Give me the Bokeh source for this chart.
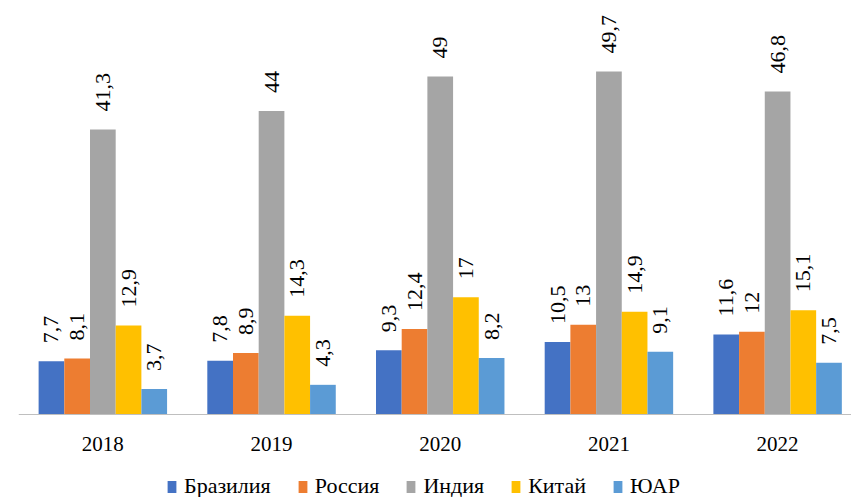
import math
from bokeh.plotting import figure
from bokeh.models import Range1d, ColumnDataSource, FixedTicker, Legend, LegendItem
from bokeh.transform import dodge
from bokeh.core.properties import value
from bokeh.embed import file_html
from bokeh.resources import INLINE

years = ["2018", "2019", "2020", "2021", "2022"]
series_names = ["Бразилия", "Россия", "Индия", "Китай", "ЮАР"]
brazil = [7.7, 7.8, 9.3, 10.5, 11.6]
russia = [8.1, 8.9, 12.4, 13, 12]
india = [41.3, 44, 49, 49.7, 46.8]
china = [12.9, 14.3, 17, 14.9, 15.1]
sar = [3.7, 4.3, 8.2, 9.1, 7.5]
colors = ["#4472C4", "#ED7D31", "#A5A5A5", "#FFC000", "#5B9BD5"]

all_vals = [brazil, russia, india, china, sar]
FONT = "Liberation Serif"


def fmt(v):
    s = ("%g" % v)
    return s.replace(".", ",")


data = {"x": list(range(len(years)))}
for k, vals in enumerate(all_vals):
    data["s%d" % k] = vals
    data["l%d" % k] = [fmt(v) for v in vals]
src = ColumnDataSource(data)

p = figure(frame_width=833, frame_height=497, output_backend="svg", toolbar_location=None,
           x_range=Range1d(-0.5, 4.438), y_range=Range1d(-12.03, 60),
           y_axis_location=None,
           min_border_left=18, min_border_right=0, min_border_top=0, min_border_bottom=0)
p.outline_line_color = None
p.xgrid.visible = False
p.ygrid.visible = False
p.background_fill_color = "white"

bw = 0.1523
items = []
for k, (name, color) in enumerate(zip(series_names, colors)):
    off = (k - 2) * bw
    r = p.vbar(x=dodge("x", off, range=p.x_range), top="s%d" % k, width=bw,
               source=src, fill_color=color, line_color=None)
    items.append(LegendItem(label=name, renderers=[r]))
    p.text(x=dodge("x", off, range=p.x_range), y="s%d" % k, text="l%d" % k,
           angle=math.pi / 2, text_align="left", text_baseline="middle",
           y_offset=-18, text_font=value(FONT), text_font_size="22px",
           text_color="black", source=src)

ax = p.xaxis[0]
ax.fixed_location = 0
ax.ticker = FixedTicker(ticks=list(range(len(years))))
ax.major_label_overrides = {i: y for i, y in enumerate(years)}
ax.axis_line_color = "#BFBFBF"
ax.axis_line_width = 1
ax.major_tick_line_color = None
ax.minor_tick_line_color = None
ax.major_tick_out = 0
ax.major_tick_in = 0
ax.minor_tick_out = 0
ax.major_label_text_font = FONT
ax.major_label_text_font_size = "21px"
ax.major_label_text_color = "black"
ax.major_label_standoff = 23

legend = Legend(items=items, orientation="horizontal", location=(148, -2),
                label_text_font=FONT, label_text_font_size="22px",
                label_text_color="black", glyph_width=11, glyph_height=15,
                label_standoff=7, spacing=26, border_line_color=None,
                background_fill_alpha=0, padding=0, margin=0)
p.add_layout(legend, "center")

open("out.html", "w").write(file_html(p, INLINE))
